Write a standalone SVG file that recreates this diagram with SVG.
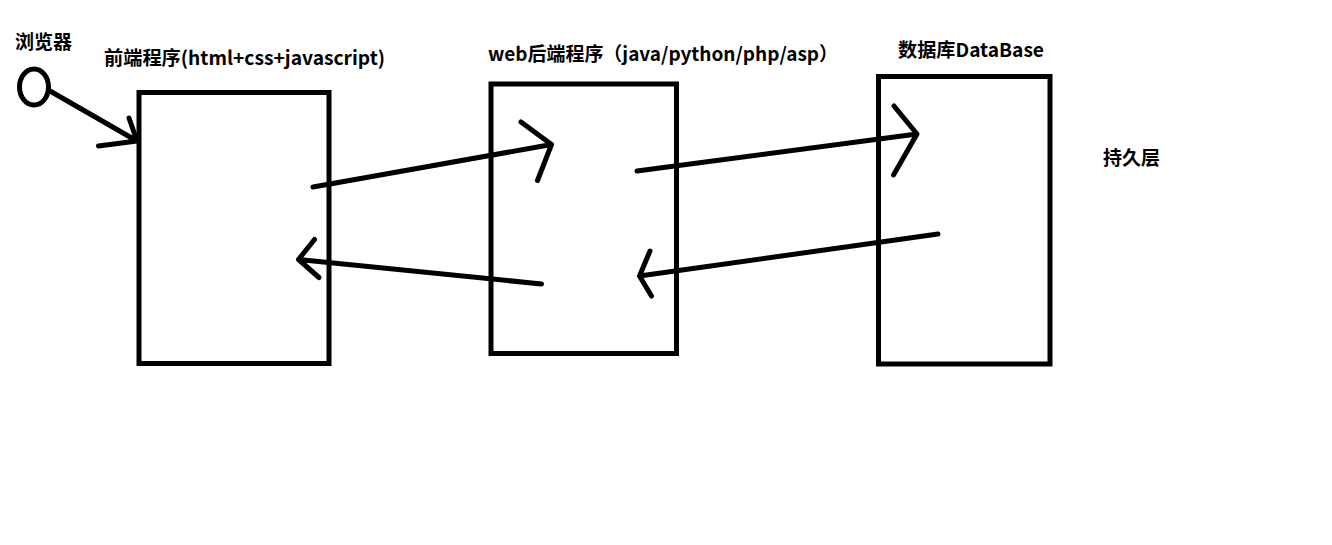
<svg xmlns="http://www.w3.org/2000/svg" width="1332" height="545" viewBox="0 0 1332 545">
<style>
.box{fill:none;stroke:#000;stroke-width:5}
.ln{fill:none;stroke:#000;stroke-width:5;stroke-linecap:round;stroke-linejoin:round}
.t{font-family:"Noto Sans CJK SC","Noto Sans",sans-serif;font-weight:bold;font-size:19px;fill:#000}
</style>
<rect width="1332" height="545" fill="#fff"/>
<g id="browser">
<ellipse cx="34" cy="87" rx="14.5" ry="18" class="box" stroke-width="4.5"/>
<text class="t" x="15" y="48.5" textLength="57" lengthAdjust="spacingAndGlyphs">浏览器</text>
</g>
<g id="frontend">
<rect x="139" y="92.5" width="190" height="271" class="box"/>
<text class="t" x="104" y="65" textLength="281" lengthAdjust="spacingAndGlyphs">前端程序(html+css+javascript)</text>
</g>
<g id="backend">
<rect x="491" y="84" width="185.5" height="269.5" class="box"/>
<text class="t" x="488" y="60.5" textLength="350" lengthAdjust="spacingAndGlyphs">web后端程序（java/python/php/asp）</text>
</g>
<g id="database">
<rect x="878.5" y="76.5" width="171.5" height="287.5" class="box"/>
<text class="t" x="898" y="57" textLength="146" lengthAdjust="spacingAndGlyphs">数据库DataBase</text>
</g>
<g id="persistence">
<text class="t" x="1103" y="165" textLength="57" lengthAdjust="spacingAndGlyphs">持久层</text>
</g>
<g id="connectors">
<path class="ln" d="M50,91 L137,141 M129,118 L137,141 L98.5,146"/>
<path class="ln" d="M313,187 L551.5,144.5 M521,122 L551.5,144.5 L537.5,180.5"/>
<path class="ln" d="M637,171 L917,134 M894,106 L917,134 L893.5,175"/>
<path class="ln" d="M938,234 L639.5,276 M650,251 L639.5,276 L651.5,296"/>
<path class="ln" d="M541.5,284 L298.5,259.5 M314.5,239.5 L298.5,259.5 L319,277.5"/>
</g>
</svg>
